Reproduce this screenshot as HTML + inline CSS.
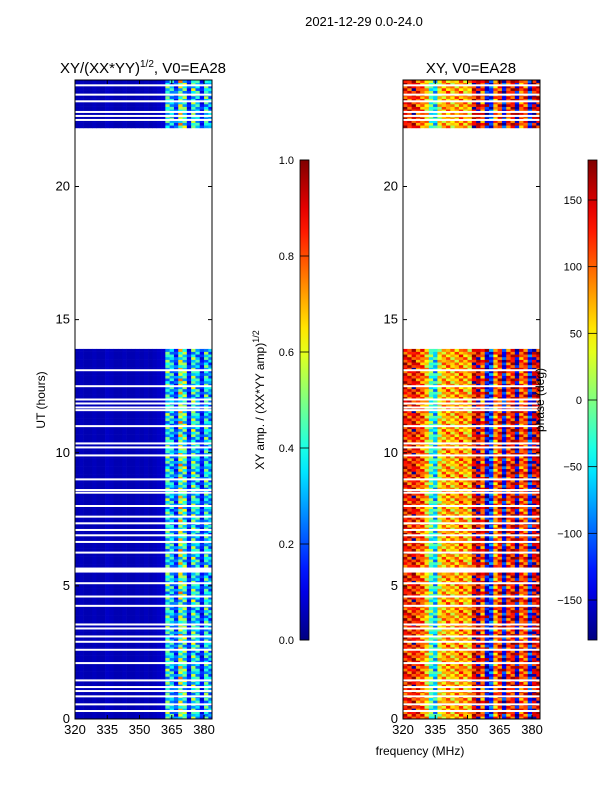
<!DOCTYPE html>
<html><head><meta charset="utf-8"><style>
body{margin:0;background:#fff;}
svg{display:block;font-family:"Liberation Sans",sans-serif;}
</style></head><body>
<svg id="fig" width="600" height="800" xmlns="http://www.w3.org/2000/svg">
<text x="364" y="26" font-size="13" text-anchor="middle">2021-12-29 0.0-24.0</text>
<text x="143" y="73" font-size="15" text-anchor="middle">XY/(XX*YY)<tspan font-size="10" dy="-6">1/2</tspan><tspan dy="6">, V0=EA28</tspan></text>
<text x="471" y="73" font-size="15" text-anchor="middle">XY, V0=EA28</text>
<g id="left"></g>
<g id="right"></g>
<g id="axes"></g>
<text x="420" y="755" font-size="12" text-anchor="middle">frequency (MHz)</text>
<text transform="translate(45,400) rotate(-90)" font-size="12" text-anchor="middle">UT (hours)</text>
<text transform="translate(264,400) rotate(-90)" font-size="12" text-anchor="middle">XY amp. / (XX*YY amp)<tspan font-size="9" dy="-5">1/2</tspan></text>
<text transform="translate(544,400) rotate(-90)" font-size="12" text-anchor="middle">phase (deg)</text>
</svg>
<script>
// ---- data ----
const freqBins=[320,322,324,326,328,330,332,334,336,338,340,342,344,346,348,350,352,354,356,358,360,362,364,366,368,370,372,374,376,378,380,382];
const ampProfile=[0.05,0.06,0.05,0.05,0.06,0.05,0.05,0.07,0.06,0.05,0.05,0.06,0.05,0.05,0.06,0.05,0.06,0.05,0.06,0.07,0.08,0.42,0.35,0.2,0.55,0.45,0.15,0.45,0.35,0.15,0.4,0.3];
const phaseProfile=[130,120,140,110,100,60,-20,-60,40,70,80,60,70,90,70,60,140,160,100,-150,-120,80,120,-140,110,130,-160,100,110,-130,150,140];
const rowMod=[1.0,0.7,1.3,0.9,0.5,1.2,0.8,1.4,0.6,1.1,0.9,1.3,0.7,1.0,1.2,0.6];
const phaseMod=[0,35,-40,15,-10,50,-30,10,40,-45,5,-15,30,-35,45,-5];
const dataSegments=[[0,5.5],[5.7,13.9],[22.2,24]];
const gapHours=[0.3,0.55,0.85,1.05,1.2,1.45,2.1,2.6,2.9,3.1,3.4,3.55,4.25,4.6,5.1,6.25,6.65,6.9,7.1,7.35,7.6,8.0,8.5,8.6,9.0,9.9,10.2,10.35,11.0,11.6,11.7,11.85,12.0,12.5,13.1,22.5,22.65,22.8,23.2,23.45,23.8];
const ampTicks=[0,0.2,0.4,0.6,0.8,1.0];
const phaseTicks=[-150,-100,-50,0,50,100,150];
const xTicks=[320,335,350,365,380];
const yTicks=[0,5,10,15,20];
// ---- scales ----
const NS="http://www.w3.org/2000/svg";
const panels=[{x0:75,g:'left'},{x0:403,g:'right'}];
const Y0=719,Y1=80,H0=0,H1=24,F0=320,F1=383.7,PW=137;
const ys=h=>Y0-(h-H0)/(H1-H0)*(Y0-Y1);
function xs(p,f){return p.x0+(f-F0)/(F1-F0)*PW;}
function jet(v){v=Math.max(0,Math.min(1,v));
 const c=x=>Math.round(255*Math.max(0,Math.min(1,1.5-Math.abs(4*v-x))));
 return `rgb(${c(3)},${c(2)},${c(1)})`;}
function mk(tag,attrs,parent){const e=document.createElementNS(NS,tag);for(const k in attrs)e.setAttribute(k,attrs[k]);parent.appendChild(e);return e;}
const rowH=0.1;
panels.forEach((p,pi)=>{
 const g=document.getElementById(p.g);
 dataSegments.forEach(seg=>{
  for(let h=seg[0];h<seg[1]-1e-6;h+=rowH){
   const h2=Math.min(seg[1],h+rowH);
   const ri=Math.round(h/rowH)%rowMod.length;
   freqBins.forEach((f,ci)=>{
    let v;
    if(pi===0){v=ampProfile[ci]*(ampProfile[ci]>0.1?rowMod[(ri+ci)%rowMod.length]:1);}
    else{let ph=phaseProfile[ci]+phaseMod[(ri+ci)%phaseMod.length];
     if(ph>180)ph-=360;if(ph<-180)ph+=360;v=(ph+180)/360;}
    const f2=Math.min(F1,f+2);
    const rc=mk('rect',{x:xs(p,f),y:ys(h2),width:xs(p,f2)-xs(p,f)+0.3,height:ys(h)-ys(h2)+0.3,fill:jet(v)},g);
    
    
   });
  }
 });
 gapHours.forEach(h=>{
  const l=mk('rect',{x:p.x0,y:ys(h)-1,width:PW,height:2,fill:'#fff'},g);
  
  
 });
 const ax=document.getElementById('axes');
 const fr=mk('rect',{x:p.x0,y:Y1,width:PW,height:Y0-Y1,fill:'none',stroke:'#000','stroke-width':1},ax);
 
 
 xTicks.forEach(t=>{const x=xs(p,t);
  mk('line',{x1:x,x2:x,y1:Y0,y2:Y0-4,stroke:'#000'},ax);
  mk('line',{x1:x,x2:x,y1:Y1,y2:Y1+4,stroke:'#000'},ax);
  const tx=mk('text',{x:x,y:Y0+15,'font-size':13,'text-anchor':'middle'},ax);tx.textContent=t;
  
  });
 yTicks.forEach(t=>{const y=ys(t);
  mk('line',{x1:p.x0,x2:p.x0+4,y1:y,y2:y,stroke:'#000'},ax);
  mk('line',{x1:p.x0+PW,x2:p.x0+PW-4,y1:y,y2:y,stroke:'#000'},ax);
  const tx=mk('text',{x:p.x0-5,y:y+4,'font-size':13,'text-anchor':'end'},ax);tx.textContent=t;
  
  });
});
// colorbars
const fig=document.getElementById('fig');
const defs=mk('defs',{},fig);
const grad=mk('linearGradient',{id:'jetg',x1:0,y1:1,x2:0,y2:0},defs);
for(let i=0;i<=20;i++)mk('stop',{offset:i/20,'stop-color':jet(i/20)},grad);
[{x:300,ticks:ampTicks,lo:0,hi:1,fmt:t=>t.toFixed(1),n:'amp-colorbar'},{x:588,ticks:phaseTicks,lo:-180,hi:180,fmt:t=>String(t).replace('-','−'),n:'phase-colorbar'}].forEach(cb=>{
 const top=160,bot=640;
 const r=mk('rect',{x:cb.x,y:top,width:9,height:bot-top,fill:'url(#jetg)',stroke:'#000','stroke-width':0.8},fig);
 
 
 cb.ticks.forEach(t=>{const y=bot-(t-cb.lo)/(cb.hi-cb.lo)*(bot-top);
  mk('line',{x1:cb.x,x2:cb.x+9,y1:y,y2:y,stroke:'#000','stroke-width':0.8},fig);
  const tx=mk('text',{x:cb.x-6,y:y+4,'font-size':11,'text-anchor':'end'},fig);tx.textContent=cb.fmt(t);
  
  });
});
</script>
</body></html>
